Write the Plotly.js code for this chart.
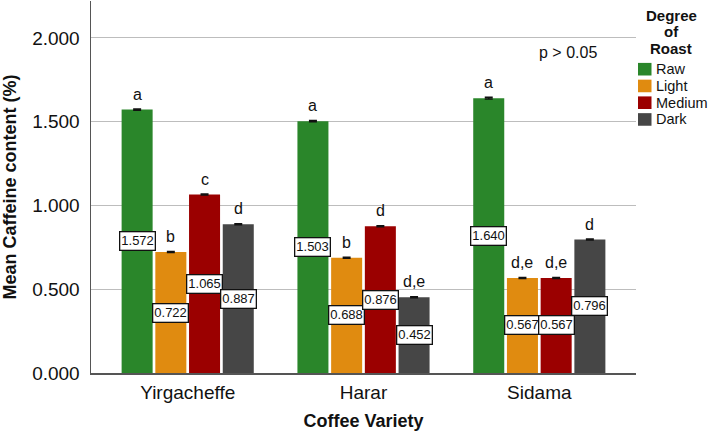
<!DOCTYPE html>
<html>
<head>
<meta charset="utf-8">
<script src="https://cdn.plot.ly/plotly-3.0.1.min.js"></script>
<style>html,body{margin:0;padding:0;background:#fff;}#chart{width:709px;height:433px;}</style>
</head>
<body>
<div id="chart"></div>
<script>
const varieties = ["Yirgacheffe", "Harar", "Sidama"];
const roasts = ["Raw", "Light", "Medium", "Dark"];
const rawVals = [1.572, 1.503, 1.640];
const lightVals = [0.722, 0.688, 0.567];
const mediumVals = [1.065, 0.876, 0.567];
const darkVals = [0.887, 0.452, 0.796];
const rawErr = [0.004, 0.004, 0.005];
const lightErr = [0.003, 0.003, 0.003];
const mediumErr = [0.003, 0.003, 0.003];
const darkErr = [0.003, 0.003, 0.003];
const rawLetters = ["a", "a", "a"];
const lightLetters = ["b", "b", "d,e"];
const mediumLetters = ["c", "d", "d,e"];
const darkLetters = ["d", "d,e", "d"];
const legendTitleLines = ["Degree", "of", "Roast"];
const colors = ["#2a862a", "#e08b10", "#9b0000", "#464646"];

const series = [rawVals, lightVals, mediumVals, darkVals];
const errs = [rawErr, lightErr, mediumErr, darkErr];
const letters = [rawLetters, lightLetters, mediumLetters, darkLetters];

const W = 709, H = 433;
const M = {l: 91, r: 73, t: 1, b: 60};
const PW = W - M.l - M.r, PH = H - M.t - M.b;
const px2x = p => (p - M.l) / PW;
const px2y = p => (H - M.b - p) / PH;

const bargap = 0.233;
const FONT = "Liberation Sans, Arial, sans-serif";

const traces = roasts.map((r, j) => ({
  type: "bar",
  name: r,
  x: varieties,
  y: series[j],
  marker: {color: colors[j], line: {width: 0}},
  error_y: {type: "data", array: errs[j], visible: true, color: "#111", thickness: 1.5, width: 4}
}));

const annotations = [];
const shapes = [];
const slot = (1 - bargap) / roasts.length;
roasts.forEach((r, j) => {
  varieties.forEach((v, i) => {
    const xpos = i + (j - (roasts.length - 1) / 2) * slot;
    const val = series[j][i];
    annotations.push({
      x: xpos, y: val, xref: "x", yref: "y",
      text: letters[j][i], showarrow: false,
      yanchor: "bottom", yshift: 5,
      font: {family: FONT, size: 16, color: "#111"}
    });
    annotations.push({
      x: xpos, y: val / 2, xref: "x", yref: "y",
      text: val.toFixed(3), showarrow: false,
      yanchor: "middle",
      bgcolor: "#fff", bordercolor: "#111", borderwidth: 1.3, borderpad: 1,
      font: {family: FONT, size: 13, color: "#111"}
    });
  });
});
annotations.push({
  xref: "paper", yref: "paper", x: px2x(568), y: px2y(53),
  xanchor: "center", yanchor: "middle",
  text: "p > 0.05", showarrow: false,
  font: {family: FONT, size: 16, color: "#111"}
});

// legend (title + swatches) in the right margin
legendTitleLines.forEach((t, k) => {
  annotations.push({
    xref: "paper", yref: "paper", x: px2x(671), y: px2y(15.5 + k * 16.3),
    xanchor: "center", yanchor: "middle", showarrow: false,
    text: "<b>" + t + "</b>",
    font: {family: FONT, size: 15, color: "#111"}
  });
});
roasts.forEach((r, j) => {
  const cy = 69.2 + j * 16.75;
  shapes.push({
    type: "rect", xref: "paper", yref: "paper",
    x0: px2x(638), x1: px2x(651.5), y0: px2y(cy + 6.3), y1: px2y(cy - 6.3),
    fillcolor: colors[j], line: {width: 0}
  });
  annotations.push({
    xref: "paper", yref: "paper", x: px2x(653.5), y: px2y(cy),
    xanchor: "left", yanchor: "middle", showarrow: false,
    text: r, font: {family: FONT, size: 14.5, color: "#111"}
  });
});

const layout = {
  width: W, height: H,
  margin: {l: M.l, r: M.r, t: M.t, b: M.b, autoexpand: false},
  paper_bgcolor: "#fff", plot_bgcolor: "#fff",
  barmode: "group", bargap: bargap, bargroupgap: 0.08,
  font: {family: FONT, color: "#111"},
  showlegend: false,
  xaxis: {
    type: "category", range: [-0.55, 2.55],
    showline: true, linecolor: "#555", linewidth: 1.5,
    showgrid: false, ticks: "", ticklabelstandoff: 2,
    tickfont: {family: FONT, size: 19, color: "#111"},
    title: {text: "<b>Coffee Variety</b>", font: {family: FONT, size: 18, color: "#111"}, standoff: 12}
  },
  yaxis: {
    range: [0, 2.22], tickvals: [0, 0.5, 1, 1.5, 2], tickformat: ".3f",
    showline: true, linecolor: "#555", linewidth: 1.5,
    showgrid: true, gridcolor: "#bdbdbd", gridwidth: 1, zeroline: false,
    ticks: "", ticklabelstandoff: 6,
    tickfont: {family: FONT, size: 19, color: "#111"},
    title: {text: "<b>Mean Caffeine content (%)</b>", font: {family: FONT, size: 18, color: "#111"}, standoff: 12}
  },
  shapes: shapes,
  annotations: annotations
};

Plotly.newPlot("chart", traces, layout, {displayModeBar: false, staticPlot: true});
</script>
</body>
</html>
